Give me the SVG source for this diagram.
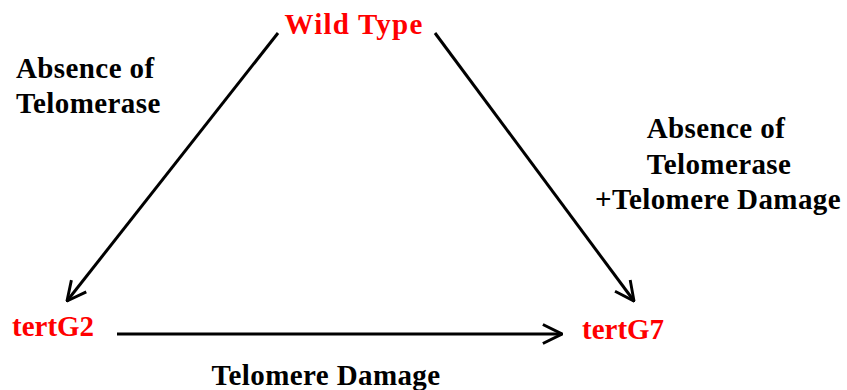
<svg xmlns="http://www.w3.org/2000/svg" width="847" height="390" viewBox="0 0 847 390">
<style>
.t{font-family:"Liberation Serif","Times New Roman",serif;font-weight:bold;font-size:29px}
.red{fill:#ff0000}
.blk{fill:#000;letter-spacing:0.4px}
.c{stroke:#000;stroke-width:3;fill:none;marker-end:url(#ah)}
</style>
<defs>
<marker id="ah" viewBox="0 0 10 10" refX="9.5" refY="5" markerWidth="7.5" markerHeight="7.5" markerUnits="strokeWidth" orient="auto">
<path d="M1,0.8 L9.5,5 L1,9.2" fill="none" stroke="#000" stroke-width="1.3"/>
</marker>
</defs>
<rect width="847" height="390" fill="#fff"/>
<g id="connectors">
<line class="c" x1="278" y1="33" x2="67" y2="301"/>
<line class="c" x1="435" y1="33" x2="634" y2="301"/>
<line class="c" x1="117" y1="334" x2="562" y2="334"/>
</g>
<g id="wildtype"><text class="t red" x="354" y="34" text-anchor="middle" style="letter-spacing:1.2px">Wild Type</text></g>
<g id="tertG2"><text class="t red" x="12" y="336">tertG2</text></g>
<g id="tertG7"><text class="t red" x="582" y="339">tertG7</text></g>
<g id="label-left"><text class="t blk" x="16" y="78">Absence of</text><text class="t blk" x="16" y="113">Telomerase</text></g>
<g id="label-right"><text class="t blk" x="716" y="138" text-anchor="middle">Absence of</text><text class="t blk" x="719" y="174" text-anchor="middle">Telomerase</text><text class="t blk" x="718" y="209" text-anchor="middle">+Telomere Damage</text></g>
<g id="label-bottom"><text class="t blk" x="326" y="385" text-anchor="middle">Telomere Damage</text></g>
</svg>
